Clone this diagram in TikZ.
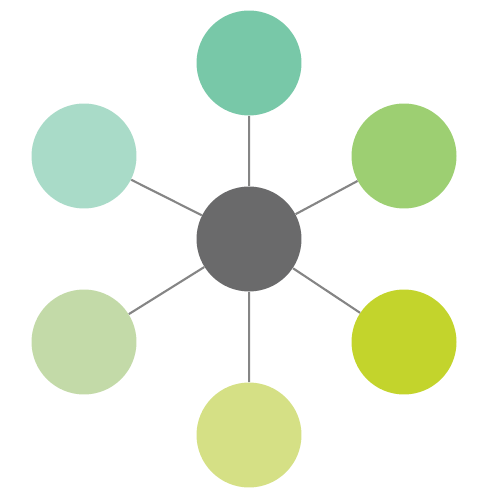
\documentclass[tikz,border=0pt]{standalone}
\usepackage{tikz}
\definecolor{hubgray}{HTML}{6A6A6B}
\definecolor{spokegray}{HTML}{858585}
\definecolor{topgreen}{HTML}{78C8A8}
\definecolor{rupgreen}{HTML}{9DCF72}
\definecolor{rlowgreen}{HTML}{C3D42C}
\definecolor{botgreen}{HTML}{D5E085}
\definecolor{llowgreen}{HTML}{C3DAA8}
\definecolor{lupgreen}{HTML}{A9DBC8}
\begin{document}
\begin{tikzpicture}[scale=0.02]
\tikzstyle{every node}+=[inner sep=0pt]
\tikzstyle{disc}=[circle,minimum size=2.1cm]
\tikzstyle{spoke}=[draw=spokegray,line width=1.2pt]
\useasboundingbox (0,0) rectangle (500,-500);
\node [disc,fill=hubgray] (hub) at (249,-239) {};
\node [disc,fill=topgreen] (top) at (249,-63) {};
\node [disc,fill=rupgreen] (rup) at (404,-156) {};
\node [disc,fill=rlowgreen] (rlow) at (404,-342) {};
\node [disc,fill=botgreen] (bot) at (249,-435) {};
\node [disc,fill=llowgreen] (llow) at (84,-342) {};
\node [disc,fill=lupgreen] (lup) at (84,-156) {};
\draw [spoke] (hub) -- (top);
\draw [spoke] (hub) -- (rup);
\draw [spoke] (hub) -- (rlow);
\draw [spoke] (hub) -- (bot);
\draw [spoke] (hub) -- (llow);
\draw [spoke] (hub) -- (lup);
\end{tikzpicture}
\end{document}
